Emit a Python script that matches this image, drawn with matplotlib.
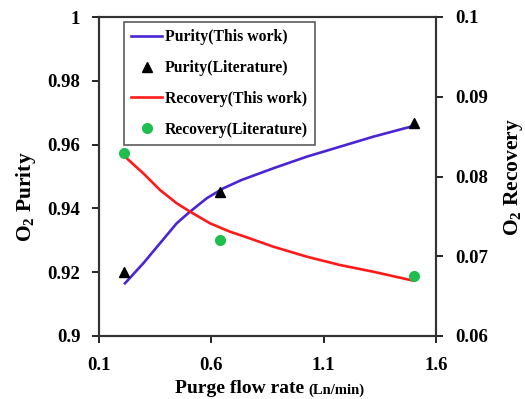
import numpy as np
import matplotlib.pyplot as plt

plt.rcParams['font.family'] = ['Liberation Serif', 'DejaVu Serif']
plt.rcParams['font.weight'] = 'bold'
plt.rcParams['mathtext.default'] = 'regular'

# model curves (this work)
flow_model = [0.2157, 0.2972, 0.3715, 0.4458, 0.5050, 0.5794, 0.6533, 0.7343,
              0.8758, 1.0245, 1.1727, 1.3209, 1.4989]
purity_model = [0.91652, 0.92279, 0.92906, 0.93533, 0.93897, 0.94317, 0.94630, 0.94890,
                0.95257, 0.95621, 0.95934, 0.96248, 0.96583]
flow_rec_model = [0.2157, 0.2972, 0.3715, 0.4458, 0.5050, 0.5941, 0.6831, 0.7498,
                  0.8758, 1.0245, 1.1727, 1.3209, 1.4989]
recovery_model = [0.08248, 0.08040, 0.07831, 0.07664, 0.07560, 0.07413, 0.07308, 0.07245,
                  0.07120, 0.06995, 0.06890, 0.06806, 0.06694]

# literature data
flow_lit = [0.21, 0.64, 1.5]
purity_lit = [0.920, 0.945, 0.9668]
recovery_lit = [0.0829, 0.0720, 0.0675]

fig = plt.figure(figsize=(5.25, 3.99), dpi=100)
ax = fig.add_axes([99 / 525, 1 - 336 / 399, 337 / 525, 319 / 399])
ax2 = ax.twinx()

l1, = ax.plot(flow_model, purity_model, color='#4a25d6', lw=1.9, label='Purity(This work)')
l2, = ax.plot(flow_lit, purity_lit, '^', color='black', ms=7, label='Purity(Literature)')
l3, = ax2.plot(flow_rec_model, recovery_model, color='#ff1a1a', lw=1.9, label='Recovery(This work)')
l4, = ax2.plot(flow_lit, recovery_lit, 'o', color='#1fbf4f', ms=7, label='Recovery(Literature)')

ax.set_xlim(0.1, 1.6)
ax.set_ylim(0.9, 1.0)
ax2.set_ylim(0.06, 0.1)
ax.set_xticks([0.1, 0.6, 1.1, 1.6])
ax.set_xticklabels(['0.1', '0.6', '1.1', '1.6'])
ax.set_yticks([0.9, 0.92, 0.94, 0.96, 0.98, 1.0])
ax.set_yticklabels(['0.9', '0.92', '0.94', '0.96', '0.98', '1'])
ax2.set_yticks([0.06, 0.07, 0.08, 0.09, 0.1])
ax2.set_yticklabels(['0.06', '0.07', '0.08', '0.09', '0.1'])

for a in (ax, ax2):
    a.tick_params(direction='out', length=5, width=1.2, labelsize=13.5, pad=8.5)
    for s in a.spines.values():
        s.set_linewidth(1.5)
        s.set_color('#333333')
ax.tick_params(axis='x', pad=10)

# axis titles
ax.set_xlabel('Purge flow rate', fontsize=14, fontweight='bold')
ax.xaxis.label.set_va('baseline')
ax.xaxis.set_label_coords(0.417, -0.179)
ax.annotate('(Ln/min)', xy=(1, 0), xycoords=ax.xaxis.label, xytext=(3, 0),
            textcoords='offset points', fontsize=10.5, fontweight='bold', va='bottom')

ax.set_ylabel('O$_2$ Purity', fontsize=15.5, fontweight='bold')
ax.yaxis.set_label_coords(-0.181, 0.436)
ax2.set_ylabel('O$_2$ Recovery', fontsize=15.5, fontweight='bold')
ax2.yaxis.set_label_coords(1.196, 0.497)

leg = ax.legend(handles=[l1, l2, l3, l4], loc='upper left', bbox_to_anchor=(0.074, 0.984),
                fontsize=11.3, frameon=True, fancybox=False, edgecolor='#333333',
                handlelength=2.0, handletextpad=0.15, labelspacing=0.95, borderpad=0.45,
                borderaxespad=0)
leg.get_frame().set_linewidth(1.2)

fig.savefig('out.png', dpi=100)
